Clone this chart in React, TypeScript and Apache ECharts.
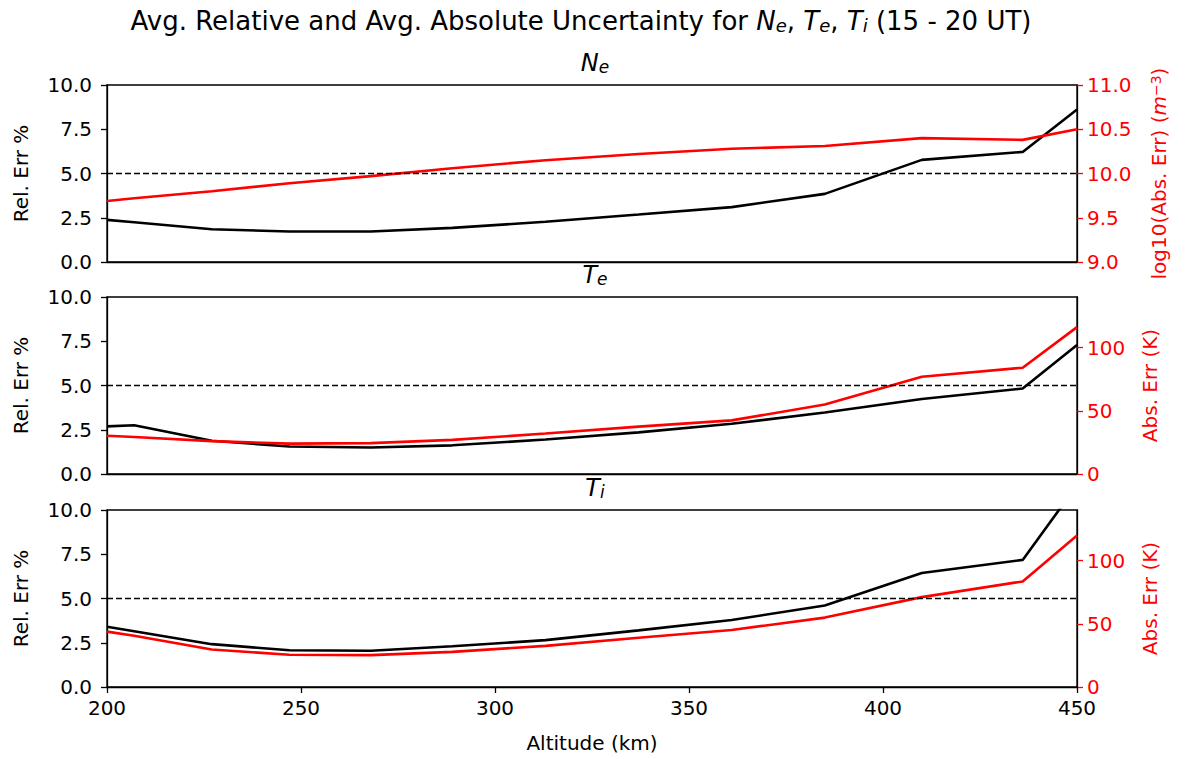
import React, { useEffect, useRef } from "react";
import * as echarts from "echarts";

// Altitude grid (km)
const altitude = [200, 207, 227, 247, 268, 289, 313, 337, 361, 385, 410, 436, 450];
// Ne
const neRel = [2.38, 2.25, 1.85, 1.72, 1.72, 1.93, 2.27, 2.68, 3.1, 3.85, 5.77, 6.22, 8.62];
const neAbsLog = [9.69, 9.72, 9.8, 9.89, 9.97, 10.06, 10.15, 10.22, 10.28, 10.31, 10.4, 10.38, 10.5];
// Te
const teRel = [2.69, 2.75, 1.88, 1.55, 1.5, 1.62, 1.95, 2.35, 2.84, 3.47, 4.24, 4.83, 7.29];
const teAbs = [30.2, 29.3, 26.0, 24.0, 24.4, 27.0, 32.0, 37.5, 42.4, 54.9, 76.9, 84.1, 116.2];
// Ti
const tiRel = [3.4, 3.15, 2.42, 2.08, 2.05, 2.3, 2.65, 3.2, 3.79, 4.6, 6.44, 7.18, 11.4];
const tiAbs = [43.8, 40.5, 29.7, 25.5, 25.2, 27.8, 32.5, 39.0, 45.1, 54.9, 71.1, 83.5, 119.8];

const xTicks = [200, 250, 300, 350, 400, 450];
const logTicks = [9, 9.5, 10, 10.5, 11];
const kTicks = [0, 50, 100];

const FONT = "DejaVu Sans";
const RED = "#ff0000";
const BLACK = "#000000";

const pairs = (xs: number[], ys: number[]) => xs.map((x, i) => [x, ys[i]]);

export default function App() {
  const ref = useRef<HTMLDivElement>(null);
  useEffect(() => {
    if (!ref.current) return;
    const chart = echarts.init(ref.current, null, { renderer: "svg" });

    const gridTops = [85, 297, 510];
    const gridH = 177;

    const grids = gridTops.map((t) => ({
      left: 107,
      width: 970,
      top: t,
      height: gridH,
      show: true,
      borderColor: BLACK,
      borderWidth: 1.3,
      containLabel: false,
    }));

    const xAxes = [0, 1, 2].map((i) => ({
      type: "value",
      gridIndex: i,
      min: 200,
      max: 450,
      interval: 50,
      axisLine: { show: true, lineStyle: { color: BLACK, width: 1.3 } },
      axisTick: { show: i === 2, length: 6, lineStyle: { color: BLACK, width: 1.3 }, customValues: xTicks },
      axisLabel: {
        show: i === 2,
        margin: 11,
        fontSize: 20,
        fontFamily: FONT,
        color: BLACK,
        customValues: xTicks,
      },
      splitLine: { show: false },
      name: i === 2 ? "Altitude (km)" : "",
      nameLocation: "middle",
      nameGap: 46,
      nameTextStyle: { fontSize: 20, fontFamily: FONT, color: BLACK },
    }));

    const leftAxis = (i: number) => ({
      type: "value",
      gridIndex: i,
      position: "left",
      min: 0,
      max: 10,
      interval: 2.5,
      axisLine: { show: true, lineStyle: { color: BLACK, width: 1.3 } },
      axisTick: { show: true, length: 6, lineStyle: { color: BLACK, width: 1.3 } },
      axisLabel: {
        margin: 15,
        fontSize: 20,
        fontFamily: FONT,
        color: BLACK,
        formatter: (v: number) => v.toFixed(1),
      },
      splitLine: { show: false },
      name: "Rel. Err %",
      nameLocation: "middle",
      nameRotate: 90,
      nameGap: 76,
      nameTextStyle: { fontSize: 20, fontFamily: FONT, color: BLACK },
    });

    const rightAxisCommon = {
      type: "value",
      position: "right",
      axisLine: { show: true, lineStyle: { color: BLACK, width: 1.3 } },
      splitLine: { show: false },
      nameLocation: "middle",
      nameRotate: 90,
    };

    const yAxes = [
      leftAxis(0),
      {
        ...rightAxisCommon,
        gridIndex: 0,
        min: 9,
        max: 11,
        interval: 0.5,
        axisTick: { show: true, length: 6, lineStyle: { color: RED, width: 1.3 }, customValues: logTicks },
        axisLabel: {
          margin: 10,
          fontSize: 20,
          fontFamily: FONT,
          color: RED,
          customValues: logTicks,
          formatter: (v: number) => v.toFixed(1),
        },
        name: "log10(Abs. Err) ({i|m}{sup|−3})",
        nameGap: 72,
        nameTextStyle: {
          fontSize: 20,
          fontFamily: FONT,
          color: RED,
          rich: {
            i: { fontSize: 20, fontFamily: FONT, fontStyle: "italic", color: RED },
            sup: { fontSize: 14, fontFamily: FONT, color: RED, verticalAlign: "top", lineHeight: 10 },
          },
        },
      },
      leftAxis(1),
      {
        ...rightAxisCommon,
        gridIndex: 1,
        min: 0,
        max: 140,
        interval: 50,
        axisTick: { show: true, length: 6, lineStyle: { color: RED, width: 1.3 }, customValues: kTicks },
        axisLabel: { margin: 10, fontSize: 20, fontFamily: FONT, color: RED, customValues: kTicks },
        name: "Abs. Err (K)",
        nameGap: 63,
        nameTextStyle: { fontSize: 20, fontFamily: FONT, color: RED },
      },
      leftAxis(2),
      {
        ...rightAxisCommon,
        gridIndex: 2,
        min: 0,
        max: 140,
        interval: 50,
        axisTick: { show: true, length: 6, lineStyle: { color: RED, width: 1.3 }, customValues: kTicks },
        axisLabel: { margin: 10, fontSize: 20, fontFamily: FONT, color: RED, customValues: kTicks },
        name: "Abs. Err (K)",
        nameGap: 63,
        nameTextStyle: { fontSize: 20, fontFamily: FONT, color: RED },
      },
    ];

    const dashed = {
      silent: true,
      symbol: ["none", "none"],
      label: { show: false },
      lineStyle: { color: BLACK, type: [6, 3], width: 1.3 },
      data: [{ yAxis: 5 }],
    };

    const line = (xi: number, yi: number, data: number[][], color: string, withDash: boolean) => ({
      type: "line",
      xAxisIndex: xi,
      yAxisIndex: yi,
      data,
      showSymbol: false,
      symbol: "none",
      clip: true,
      lineStyle: { color, width: 2.6 },
      itemStyle: { color },
      ...(withDash ? { markLine: dashed } : {}),
    });

    const series = [
      line(0, 0, pairs(altitude, neRel), BLACK, true),
      line(0, 1, pairs(altitude, neAbsLog), RED, false),
      line(1, 2, pairs(altitude, teRel), BLACK, true),
      line(1, 3, pairs(altitude, teAbs), RED, false),
      line(2, 4, pairs(altitude, tiRel), BLACK, true),
      line(2, 5, pairs(altitude, tiAbs), RED, false),
    ];

    const subRich = (size: number) => ({
      i: { fontSize: size, fontFamily: FONT, fontStyle: "italic", color: BLACK },
      sub: {
        fontSize: Math.round(size * 0.7),
        fontFamily: FONT,
        fontStyle: "italic",
        color: BLACK,
        verticalAlign: "bottom",
        lineHeight: 12,
      },
    });

    const titles = [
      {
        text: "Avg. Relative and Avg. Absolute Uncertainty for {i|N}{sub|e}, {i|T}{sub|e}, {i|T}{sub|i} (15 - 20 UT)",
        left: 576,
        top: 3,
        textAlign: "center",
        textStyle: {
          fontSize: 26,
          fontWeight: "normal",
          fontFamily: FONT,
          color: BLACK,
          rich: subRich(26),
        },
      },
      ...[
        ["{i|N}{sub|e}", 46],
        ["{i|T}{sub|e}", 258],
        ["{i|T}{sub|i}", 471],
      ].map(([t, top]) => ({
        text: t as string,
        left: 590,
        top: top as number,
        textAlign: "center",
        textStyle: {
          fontSize: 24,
          fontWeight: "normal",
          fontFamily: FONT,
          color: BLACK,
          rich: subRich(24),
        },
      })),
    ];

    chart.setOption({
      animation: false,
      backgroundColor: "#ffffff",
      textStyle: { fontFamily: FONT },
      title: titles,
      grid: grids,
      xAxis: xAxes,
      yAxis: yAxes,
      series,
    });

    return () => chart.dispose();
  }, []);

  return (
    <div
      ref={ref}
      style={{ position: "absolute", left: 0, top: 0, width: 1185, height: 759, background: "#fff" }}
    />
  );
}
